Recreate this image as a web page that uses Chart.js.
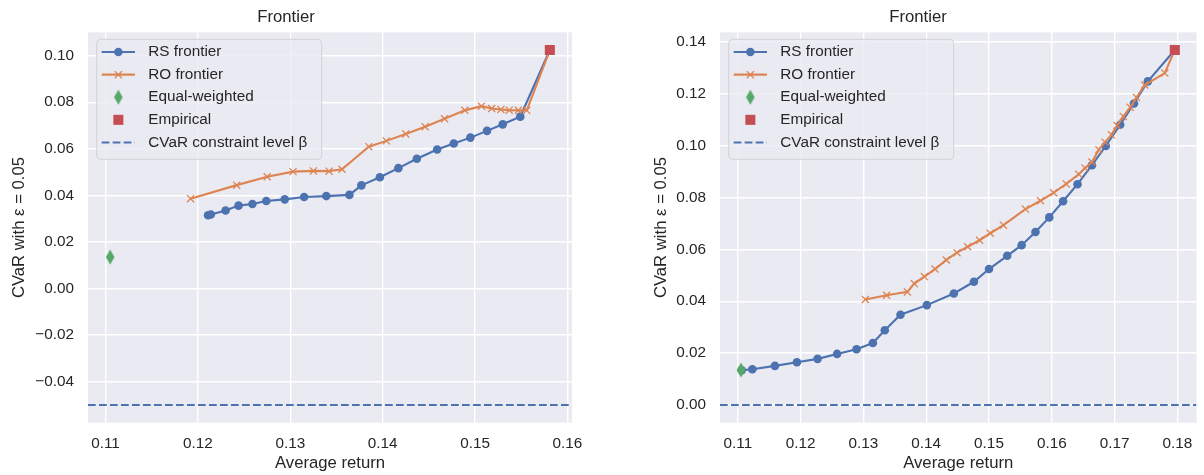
<!DOCTYPE html>
<html>
<head>
<meta charset="utf-8">
<script src="https://cdn.jsdelivr.net/npm/chart.js@4/dist/chart.umd.min.js"></script>
<style>
  html, body { margin: 0; padding: 0; background: #fff; }
  #wrap { position: relative; width: 1204px; height: 475px; }
  .box { position: absolute; top: 0; width: 602px; height: 475px; }
</style>
</head>
<body>
<div id="wrap">
  <div class="box" style="left:0"><canvas id="leftChart"></canvas></div>
  <div class="box" style="left:602px"><canvas id="rightChart"></canvas></div>
</div>
<script>
// ---- data ----
const leftRsX = [0.1211, 0.1214, 0.1230, 0.1244, 0.1259, 0.1274, 0.1294, 0.1315, 0.1339, 0.1364, 0.1377, 0.1397, 0.1417, 0.1437, 0.1459, 0.1477, 0.1495, 0.1513, 0.1530, 0.1549, 0.1581];
const leftRsY = [0.0315, 0.0318, 0.0335, 0.0356, 0.0363, 0.0376, 0.0383, 0.0393, 0.0397, 0.0402, 0.0443, 0.0478, 0.0517, 0.0557, 0.0597, 0.0623, 0.0648, 0.0677, 0.0705, 0.0738, 0.1024];
const leftRoX = [0.1192, 0.1242, 0.1275, 0.1303, 0.1325, 0.1342, 0.1356, 0.1385, 0.1404, 0.1425, 0.1446, 0.1467, 0.1489, 0.1507, 0.1518, 0.1528, 0.1537, 0.1547, 0.1556, 0.1581];
const leftRoY = [0.0386, 0.0444, 0.0480, 0.0502, 0.0505, 0.0504, 0.0512, 0.0609, 0.0634, 0.0664, 0.0695, 0.0729, 0.0765, 0.0783, 0.0773, 0.0769, 0.0766, 0.0765, 0.0765, 0.1024];
const leftEqual = [0.1105, 0.0135];
const leftEmpirical = [0.1581, 0.1024];
const leftBeta = -0.05;

const rightRsX = [0.1106, 0.1123, 0.1159, 0.1194, 0.1227, 0.1258, 0.1289, 0.1315, 0.1334, 0.1359, 0.1401, 0.1444, 0.1476, 0.1500, 0.1529, 0.1552, 0.1574, 0.1596, 0.1618, 0.1641, 0.1664, 0.1686, 0.1709, 0.1731, 0.1753, 0.1796];
const rightRsY = [0.0134, 0.0138, 0.0151, 0.0165, 0.0178, 0.0197, 0.0215, 0.0239, 0.0288, 0.0348, 0.0385, 0.0430, 0.0475, 0.0524, 0.0575, 0.0616, 0.0667, 0.0723, 0.0785, 0.0851, 0.0924, 0.0998, 0.1080, 0.1162, 0.1247, 0.1368];
const rightRoX = [0.1303, 0.1337, 0.1370, 0.1381, 0.1397, 0.1414, 0.1432, 0.1449, 0.1466, 0.1485, 0.1502, 0.1523, 0.1558, 0.1582, 0.1603, 0.1623, 0.1643, 0.1653, 0.1664, 0.1675, 0.1685, 0.1695, 0.1704, 0.1714, 0.1725, 0.1735, 0.1748, 0.1780, 0.1796];
const rightRoY = [0.0407, 0.0423, 0.0436, 0.0468, 0.0495, 0.0524, 0.0559, 0.0587, 0.0610, 0.0635, 0.0662, 0.0693, 0.0755, 0.0787, 0.0818, 0.0852, 0.0889, 0.0913, 0.0936, 0.0984, 0.1013, 0.1041, 0.1077, 0.1112, 0.1147, 0.1185, 0.1233, 0.1279, 0.1368];
const rightEqual = [0.1105, 0.0135];
const rightEmpirical = [0.1796, 0.1368];
const rightBeta = 0.0;

// axis ranges and tick labels
const leftXRange = [0.1081, 0.1605];
const leftYRange = [-0.0576, 0.1100];
const leftXTicks = [0.11, 0.12, 0.13, 0.14, 0.15, 0.16];
const leftYTicks = [-0.04, -0.02, 0.00, 0.02, 0.04, 0.06, 0.08, 0.10];
const rightXRange = [0.10715, 0.18305];
const rightYRange = [-0.0068, 0.1436];
const rightXTicks = [0.11, 0.12, 0.13, 0.14, 0.15, 0.16, 0.17, 0.18];
const rightYTicks = [0.00, 0.02, 0.04, 0.06, 0.08, 0.10, 0.12, 0.14];

const seriesLabels = ['RS frontier', 'RO frontier', 'Equal-weighted', 'Empirical', 'CVaR constraint level β'];

// ---- styling ----
const FONT = "'Liberation Sans', Arial, sans-serif";
const TEXT = '#262626';
const BLUE = '#4C72B0', ORANGE = '#DD8452', GREEN = '#55A868', RED = '#C44E52';
Chart.defaults.font.family = FONT;
Chart.defaults.color = TEXT;

// thin diamond marker as an image
const diamond = document.createElement('canvas');
diamond.width = 10; diamond.height = 16;
(function () {
    const c = diamond.getContext('2d');
    c.fillStyle = GREEN;
    c.beginPath();
    c.moveTo(5, 0.5); c.lineTo(9.3, 8); c.lineTo(5, 15.5); c.lineTo(0.7, 8);
    c.closePath();
    c.fill();
})();

function pts(xs, ys) {
    return xs.map((x, i) => ({ x: x, y: ys[i] }));
}

function fmt(v) {
    const s = Math.abs(v).toFixed(2);
    return v < -1e-9 ? '\u2212' + s : s;
}

// grey plot background
const plotBg = {
    id: 'plotBg',
    beforeDraw(chart) {
        const a = chart.chartArea, ctx = chart.ctx;
        ctx.save();
        ctx.fillStyle = '#EAEAF2';
        ctx.fillRect(a.left, a.top, a.right - a.left, a.bottom - a.top);
        ctx.restore();
    }
};

// matplotlib-like legend box in the upper left corner
const boxLegend = {
    id: 'boxLegend',
    beforeDatasetsDraw(chart) {
        const a = chart.chartArea, ctx = chart.ctx;
        const bx = a.left + 8.7, by = a.top + 7, bw = 225, bh = 120, r = 4;
        ctx.save();
        ctx.beginPath();
        ctx.moveTo(bx + r, by);
        ctx.lineTo(bx + bw - r, by);
        ctx.arcTo(bx + bw, by, bx + bw, by + r, r);
        ctx.lineTo(bx + bw, by + bh - r);
        ctx.arcTo(bx + bw, by + bh, bx + bw - r, by + bh, r);
        ctx.lineTo(bx + r, by + bh);
        ctx.arcTo(bx, by + bh, bx, by + bh - r, r);
        ctx.lineTo(bx, by + r);
        ctx.arcTo(bx, by, bx + r, by, r);
        ctx.closePath();
        ctx.fillStyle = 'rgba(234,234,242,0.8)';
        ctx.fill();
        ctx.strokeStyle = 'rgba(204,204,204,0.8)';
        ctx.lineWidth = 1;
        ctx.stroke();

        chart.data.datasets.forEach((ds, i) => {
            const y = a.top + 19.7 + i * 22.6;
            const x0 = a.left + 13.7, x1 = a.left + 47, xm = (x0 + x1) / 2;
            if (ds.showLine) {
                ctx.save();
                ctx.strokeStyle = ds.borderColor;
                ctx.lineWidth = ds.borderWidth;
                ctx.setLineDash(ds.borderDash || []);
                ctx.beginPath();
                ctx.moveTo(x0, y);
                ctx.lineTo(x1, y);
                ctx.stroke();
                ctx.restore();
            }
            if (ds.pointRadius > 0) {
                ctx.save();
                ctx.fillStyle = ds.backgroundColor;
                ctx.strokeStyle = ds.pointBorderColor || ds.borderColor;
                ctx.lineWidth = ds.pointBorderWidth || 0;
                Chart.helpers.drawPoint(ctx, {
                    pointStyle: ds.pointStyle,
                    radius: ds.pointRadius,
                    borderWidth: ds.pointBorderWidth || 0,
                    rotation: 0
                }, xm, y);
                ctx.restore();
            }
            ctx.fillStyle = TEXT;
            ctx.font = '15.3px ' + FONT;
            ctx.textAlign = 'left';
            ctx.textBaseline = 'middle';
            ctx.fillText(seriesLabels[i], a.left + 60.3, y);
        });
        ctx.restore();
    }
};

function makeDatasets(rsX, rsY, roX, roY, eq, emp, beta, xRange) {
    return [
        {
            data: pts(rsX, rsY), showLine: true, order: 4,
            borderColor: BLUE, backgroundColor: BLUE, borderWidth: 2.1,
            pointStyle: 'circle', pointRadius: 4.3, pointBorderWidth: 0, pointHoverRadius: 4.3
        },
        {
            data: pts(roX, roY), showLine: true, order: 3,
            borderColor: ORANGE, backgroundColor: ORANGE, borderWidth: 2.1,
            pointStyle: 'crossRot', pointRadius: 5, pointBorderWidth: 1.3,
            pointBorderColor: ORANGE, pointHoverRadius: 5
        },
        {
            data: [{ x: eq[0], y: eq[1] }], showLine: false, order: 2,
            backgroundColor: GREEN, borderColor: GREEN,
            pointStyle: diamond, pointRadius: 7, pointBorderWidth: 0
        },
        {
            data: [{ x: emp[0], y: emp[1] }], showLine: false, order: 1,
            backgroundColor: RED, borderColor: RED,
            pointStyle: 'rect', pointRadius: 7.1, pointBorderWidth: 0, pointHoverRadius: 7.1
        },
        {
            data: [{ x: xRange[0], y: beta }, { x: xRange[1], y: beta }], showLine: true, order: 5,
            borderColor: BLUE, backgroundColor: BLUE, borderWidth: 2.1, borderDash: [7.7, 3.3],
            pointRadius: 0
        }
    ];
}

function makeChart(id, datasets, xRange, yRange, xTicks, yTicks, padL, padR, yTitlePad) {
    const ctx = document.getElementById(id).getContext('2d');
    return new Chart(ctx, {
        type: 'scatter',
        data: { datasets: datasets },
        plugins: [plotBg, boxLegend],
        options: {
            responsive: true,
            maintainAspectRatio: false,
            animation: false,
            events: [],
            layout: { padding: { left: padL, right: padR, top: 0, bottom: 0 } },
            plugins: {
                legend: { display: false },
                tooltip: { enabled: false },
                title: {
                    display: true, text: 'Frontier', color: TEXT,
                    font: { size: 16.7, weight: 'normal', family: FONT },
                    padding: { top: 7.5, bottom: 4.8 }
                }
            },
            scales: {
                x: {
                    type: 'linear', min: xRange[0], max: xRange[1],
                    afterBuildTicks: s => { s.ticks = xTicks.map(v => ({ value: v })); },
                    afterFit: s => { s.height = 52.3; },
                    grid: { color: '#ffffff', lineWidth: 1.4, drawTicks: false },
                    border: { display: false },
                    ticks: {
                        color: TEXT, font: { size: 15.3 }, padding: 11.5, autoSkip: false,
                        maxRotation: 0, callback: v => fmt(v)
                    },
                    title: {
                        display: true, text: 'Average return', color: TEXT,
                        font: { size: 16.7 }, padding: { top: 0, bottom: 1.8 }
                    }
                },
                y: {
                    type: 'linear', min: yRange[0], max: yRange[1],
                    afterBuildTicks: s => { s.ticks = yTicks.map(v => ({ value: v })); },
                    afterFit: s => { s.width = 88; },
                    grid: { color: '#ffffff', lineWidth: 1.4, drawTicks: false },
                    border: { display: false },
                    ticks: {
                        color: TEXT, font: { size: 15.3 }, padding: 14, autoSkip: false,
                        callback: v => fmt(v)
                    },
                    title: {
                        display: true, text: 'CVaR with ε = 0.05', color: TEXT,
                        font: { size: 16.7 }, padding: { top: yTitlePad, bottom: 0 }
                    }
                }
            }
        }
    });
}

makeChart('leftChart',
    makeDatasets(leftRsX, leftRsY, leftRoX, leftRoY, leftEqual, leftEmpirical, leftBeta, leftXRange),
    leftXRange, leftYRange, leftXTicks, leftYTicks, 0, 30, 9.2);

makeChart('rightChart',
    makeDatasets(rightRsX, rightRsY, rightRoX, rightRoY, rightEqual, rightEmpirical, rightBeta, rightXRange),
    rightXRange, rightYRange, rightXTicks, rightYTicks, 30, 0, 19.2);
</script>
</body>
</html>
